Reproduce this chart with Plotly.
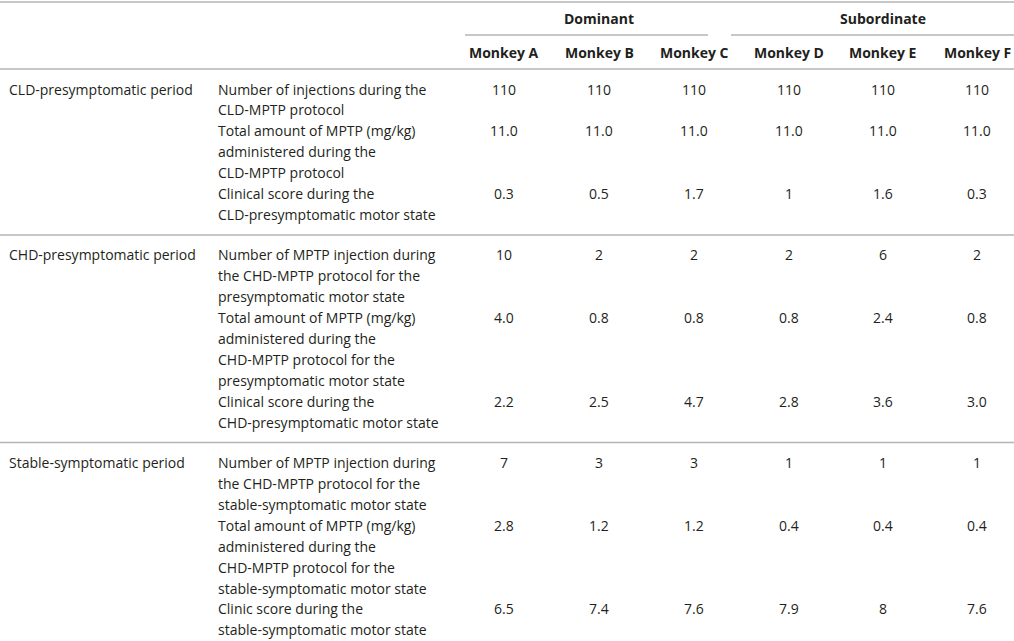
import plotly.graph_objects as go

# table content
monkeys = ["Monkey A", "Monkey B", "Monkey C", "Monkey D", "Monkey E", "Monkey F"]
groups = ["Dominant", "Subordinate"]
periods = [
    "CLD-presymptomatic period",
    "CHD-presymptomatic period",
    "Stable-symptomatic period",
]
measures = [
    [
        ["Number of injections during the", "CLD-MPTP protocol"],
        ["Total amount of MPTP (mg/kg)", "administered during the", "CLD-MPTP protocol"],
        ["Clinical score during the", "CLD-presymptomatic motor state"],
    ],
    [
        ["Number of MPTP injection during", "the CHD-MPTP protocol for the",
         "presymptomatic motor state"],
        ["Total amount of MPTP (mg/kg)", "administered during the",
         "CHD-MPTP protocol for the", "presymptomatic motor state"],
        ["Clinical score during the", "CHD-presymptomatic motor state"],
    ],
    [
        ["Number of MPTP injection during", "the CHD-MPTP protocol for the",
         "stable-symptomatic motor state"],
        ["Total amount of MPTP (mg/kg)", "administered during the",
         "CHD-MPTP protocol for the", "stable-symptomatic motor state"],
        ["Clinic score during the", "stable-symptomatic motor state"],
    ],
]
monkey_a = ["110", "11.0", "0.3", "10", "4.0", "2.2", "7", "2.8", "6.5"]
monkey_b = ["110", "11.0", "0.5", "2", "0.8", "2.5", "3", "1.2", "7.4"]
monkey_c = ["110", "11.0", "1.7", "2", "0.8", "4.7", "3", "1.2", "7.6"]
monkey_d = ["110", "11.0", "1", "2", "0.8", "2.8", "1", "0.4", "7.9"]
monkey_e = ["110", "11.0", "1.6", "6", "2.4", "3.6", "1", "0.4", "8"]
monkey_f = ["110", "11.0", "0.3", "2", "0.8", "3.0", "1", "0.4", "7.6"]
values = [monkey_a, monkey_b, monkey_c, monkey_d, monkey_e, monkey_f]

# layout constants (pixels)
W, H = 1014, 641
X_PERIOD = 7
X_MEASURE = 216
COL_X = [504, 599, 694, 789, 883, 977]
GROUP_SPAN = [(465, 708), (731, W)]
Y_TOP_RULE = 2
Y_GROUP = 18
Y_GROUP_RULE = 35
Y_HEAD = 52
Y_HEAD_RULE = 69
LH = 20.9
PAD_TOP = 20
PAD_BOTTOM = 20.5

TEXT = "#231f20"
RULE = "#b4b4b4"
FONT = "Open Sans"
SIZE = 14

annotations = []
shapes = []


def add_text(x, y, text, anchor="left", bold=False):
    annotations.append(dict(
        x=x, y=y, xref="x", yref="y", text=f"<b>{text}</b>" if bold else text,
        showarrow=False, xanchor=anchor, yanchor="middle",
        font=dict(family=FONT, size=SIZE, color=TEXT),
    ))


def add_rule(x0, x1, y):
    shapes.append(dict(type="line", xref="x", yref="y", x0=x0, x1=x1, y0=y, y1=y,
                       line=dict(color=RULE, width=1.5)))


# header
add_rule(0, W, Y_TOP_RULE)
for g, name in enumerate(groups):
    x0, x1 = GROUP_SPAN[g]
    add_text((COL_X[g * 3] + COL_X[g * 3 + 2]) / 2, Y_GROUP, name, "center", True)
    add_rule(x0, x1, Y_GROUP_RULE)
for x, name in zip(COL_X, monkeys):
    add_text(x, Y_HEAD, name, "center", True)
add_rule(0, W, Y_HEAD_RULE)

# body
y_rule = Y_HEAD_RULE
row = 0
for p, period in enumerate(periods):
    y = y_rule + PAD_TOP
    add_text(X_PERIOD, y, period)
    for lines in measures[p]:
        for i, ln in enumerate(lines):
            add_text(X_MEASURE, y + i * LH, ln)
        for x, col in zip(COL_X, values):
            add_text(x, y, col[row], "center")
        y += len(lines) * LH
        row += 1
    y_rule = y - LH + PAD_BOTTOM
    if p < len(periods) - 1:
        add_rule(0, W, y_rule)

fig = go.Figure()
fig.update_layout(
    width=W, height=H,
    margin=dict(l=0, r=0, t=0, b=0),
    paper_bgcolor="white", plot_bgcolor="white",
    xaxis=dict(range=[0, W], visible=False, fixedrange=True),
    yaxis=dict(range=[H, 0], visible=False, fixedrange=True),
    annotations=annotations,
    shapes=shapes,
    showlegend=False,
)

# drop the browser's default body margin so the table sits flush in the window
fig.write_html(
    "out.html",
    config={"displayModeBar": False},
    post_script="document.body.style.margin='0';document.body.style.overflow='hidden';",
)
